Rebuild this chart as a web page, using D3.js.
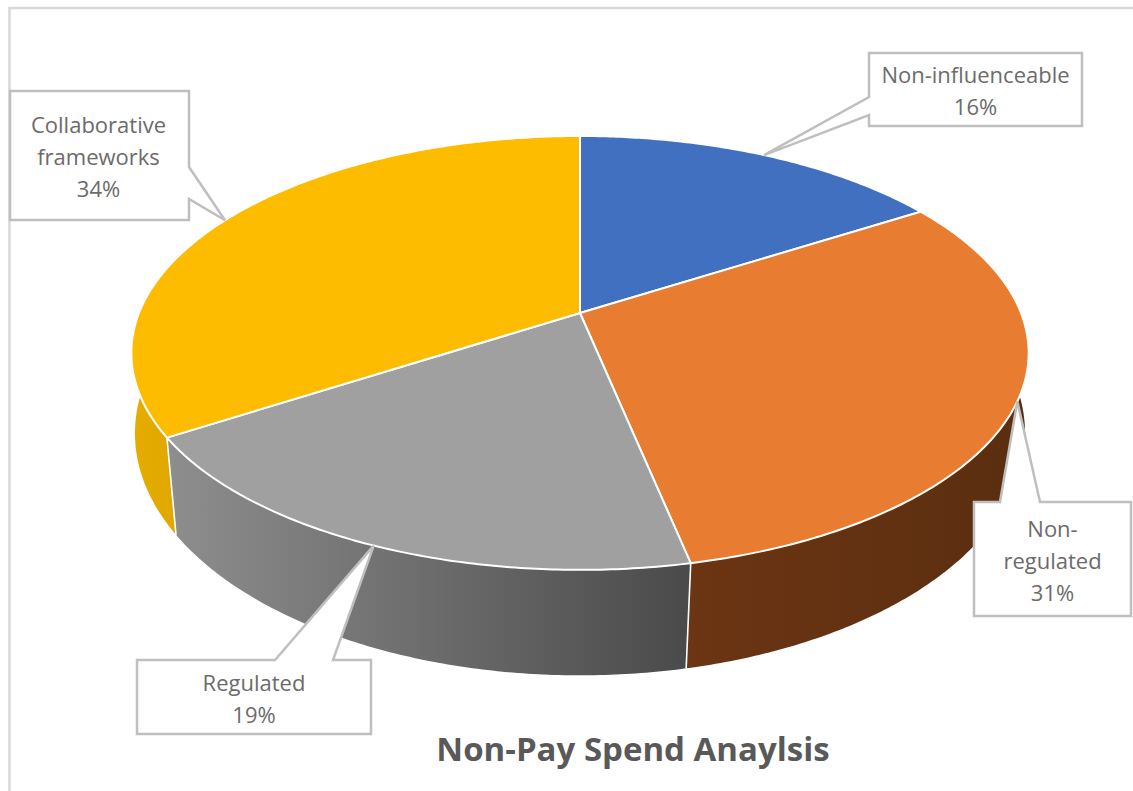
<!DOCTYPE html>
<html>
<head>
<meta charset="utf-8">
<script src="https://cdn.jsdelivr.net/npm/d3@7/dist/d3.min.js"></script>
<style>
  html, body { margin: 0; padding: 0; background: #fff; }
  svg { display: block; }
  text { font-family: "Open Sans", "Noto Sans", sans-serif; }
</style>
</head>
<body>
<svg id="chart" width="1133" height="791"></svg>
<script>
// Share of non-pay spend, in percent, clockwise from twelve o'clock
const categories = ["Non-influenceable", "Non-regulated", "Regulated", "Collaborative frameworks"];
const shares = [16.1, 30.6, 19.3, 34.0];
const labelLines = [["Non-influenceable"], ["Non-", "regulated"], ["Regulated"], ["Collaborative", "frameworks"]];
const topColors = ["#4270c0", "#e87c30", "#a0a0a0", "#fdbc00"];
const wallStops = [
  ["#2f4f8a", "#2f4f8a"],
  ["#6c3513", "#5a2e10"],
  ["#8e8e8e", "#4a4a4a"],
  ["#e6ac00", "#d49f00"]
];
const chartTitle = "Non-Pay Spend Anaylsis";

const svg = d3.select("#chart");
const defs = svg.append("defs");

// Perspective projection of a unit circle; b < 0 enlarges the near side
const project = (p) => (theta) => {
  const u = Math.sin(theta), v = -Math.cos(theta), den = 1 + p.b * v;
  return [p.x0 + p.c * u / den, p.y0 + p.a * v / den];
};
const topRim = project({ x0: 580, y0: 313, a: 209.6, b: -0.184, c: 441 });
const baseRim = project({ x0: 580, y0: 397, a: 236.6, b: -0.15, c: 440 });
const apex = [580, 313];

const arcs = d3.pie().sort(null).value(d => d)(shares);
const line = d3.line();
const samples = (a0, a1) => {
  const n = Math.max(2, Math.ceil((a1 - a0) / 0.01));
  return d3.range(n + 1).map(i => a0 + (a1 - a0) * i / n);
};

// Side walls, only for the part of the rim facing the viewer
const wallFrom = Math.PI * 0.3, wallTo = Math.PI * 1.7;
const wallExtent = arcs.map(d => [Math.max(d.startAngle, wallFrom), Math.min(d.endAngle, wallTo)]);

arcs.forEach((d, i) => {
  const [a0, a1] = wallExtent[i];
  if (a1 <= a0) return;
  const xs = samples(a0, a1).map(t => topRim(t)[0]).concat(samples(a0, a1).map(t => baseRim(t)[0]));
  const grad = defs.append("linearGradient")
    .attr("id", "wall" + i)
    .attr("gradientUnits", "userSpaceOnUse")
    .attr("x1", d3.min(xs)).attr("x2", d3.max(xs))
    .attr("y1", 0).attr("y2", 0);
  grad.append("stop").attr("offset", 0).attr("stop-color", wallStops[i][0]);
  grad.append("stop").attr("offset", 1).attr("stop-color", wallStops[i][1]);
});

svg.append("g").attr("class", "walls")
  .selectAll("path")
  .data(arcs.map((d, i) => i).filter(i => wallExtent[i][1] > wallExtent[i][0]))
  .join("path")
  .attr("d", i => {
    const ts = samples(wallExtent[i][0], wallExtent[i][1]);
    return line(ts.map(topRim).concat(ts.slice().reverse().map(baseRim))) + "Z";
  })
  .attr("fill", i => `url(#wall${i})`);

// Light seams where neighbouring walls meet
svg.append("g").attr("class", "seams")
  .selectAll("line")
  .data(arcs.slice(1).map(d => d.startAngle).filter(t => t > Math.PI * 0.5 && t < Math.PI * 1.5))
  .join("line")
  .attr("x1", t => topRim(t)[0]).attr("y1", t => topRim(t)[1])
  .attr("x2", t => baseRim(t)[0]).attr("y2", t => baseRim(t)[1])
  .attr("stroke", "#ffffff").attr("stroke-width", 1.6);

// Top face of every slice
svg.append("g").attr("class", "slices")
  .selectAll("path")
  .data(arcs)
  .join("path")
  .attr("d", d => line([apex].concat(samples(d.startAngle, d.endAngle).map(topRim))) + "Z")
  .attr("fill", (d, i) => topColors[i])
  .attr("stroke", "#ffffff")
  .attr("stroke-width", 2)
  .attr("stroke-linejoin", "round");

// Frame of the chart area, open on the cropped sides
svg.append("path")
  .attr("d", "M9.5,791V8H1133")
  .attr("fill", "none")
  .attr("stroke", "#d9d9d9")
  .attr("stroke-width", 2.5);

// Callout boxes: rectangle plus a wedge whose tip sits on the slice's rim
const boxes = [
  { l: 869, t: 53, r: 1082, b: 126, side: "left", p: [97, 115], lh: 32, y: 83 },
  { l: 974, t: 502, r: 1131, b: 616, side: "top", p: [1000, 1040], lh: 32, y: 537 },
  { l: 137, t: 660, r: 371, b: 734, side: "top", p: [275, 333], lh: 32, y: 691 },
  { l: 10, t: 91, r: 189, b: 220, side: "right", p: [167, 199], lh: 32, y: 133 }
];
const fmt = d3.format(".0f");

const callouts = svg.append("g").attr("class", "callouts")
  .selectAll("g")
  .data(arcs)
  .join("g");

callouts.append("path")
  .attr("d", (d, i) => {
    const k = boxes[i];
    const tip = topRim((d.startAngle + d.endAngle) / 2);
    let pts;
    if (k.side === "left") {
      pts = [[k.l, k.t], [k.r, k.t], [k.r, k.b], [k.l, k.b], [k.l, k.p[1]], tip, [k.l, k.p[0]]];
    } else if (k.side === "right") {
      pts = [[k.l, k.t], [k.r, k.t], [k.r, k.p[0]], tip, [k.r, k.p[1]], [k.r, k.b], [k.l, k.b]];
    } else {
      pts = [[k.l, k.t], [k.p[0], k.t], tip, [k.p[1], k.t], [k.r, k.t], [k.r, k.b], [k.l, k.b]];
    }
    return line(pts) + "Z";
  })
  .attr("fill", "#ffffff")
  .attr("stroke", "#bfbfbf")
  .attr("stroke-width", 2.5)
  .attr("stroke-linejoin", "miter");

callouts.each(function (d, i) {
  const k = boxes[i];
  const rows = labelLines[i].concat(fmt(shares[i]) + "%");
  d3.select(this).append("text")
    .attr("text-anchor", "middle")
    .attr("font-size", 22)
    .attr("fill", "#6b6b6b")
    .selectAll("tspan")
    .data(rows)
    .join("tspan")
    .attr("x", (k.l + k.r) / 2 + (i === 3 ? -1 : 0))
    .attr("y", (r, j) => k.y + j * k.lh)
    .text(r => r);
});

svg.append("text")
  .attr("x", 633)
  .attr("y", 761)
  .attr("text-anchor", "middle")
  .attr("font-size", 33)
  .attr("font-weight", 700)
  .attr("fill", "#595959")
  .text(chartTitle);
</script>
</body>
</html>
